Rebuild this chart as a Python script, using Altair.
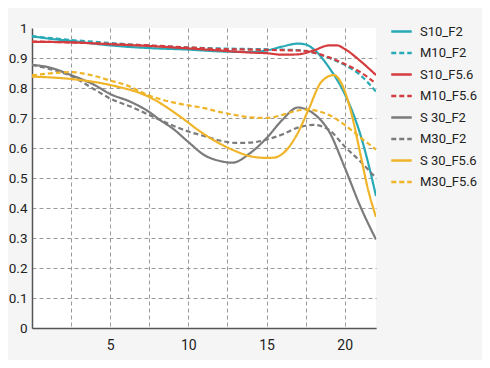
import altair as alt
import pandas as pd

series_names = ["S10_F2", "M10_F2", "S10_F5.6", "M10_F5.6",
                "S 30_F2", "M30_F2", "S 30_F5.6", "M30_F5.6"]
series_colors = ["#28a9b6", "#28a9b6", "#d43c3f", "#d43c3f",
                 "#7b7b7b", "#7b7b7b", "#f0b429", "#f0b429"]
series_dash = [[1, 0], [5, 3], [1, 0], [5, 3], [1, 0], [5, 3], [1, 0], [5, 3]]

s10_f2_x = [0, 1, 2.5, 5, 7.5, 10, 12, 14, 15, 16, 17, 17.5, 18, 19, 20, 20.5, 21, 21.5, 22]
s10_f2_y = [0.973, 0.965, 0.957, 0.942, 0.933, 0.928, 0.922, 0.92, 0.925, 0.938, 0.948, 0.945,
            0.93, 0.868, 0.78, 0.72, 0.645, 0.55, 0.44]

m10_f2_x = [0, 2.5, 5, 7.5, 10, 12, 14, 16, 17, 18, 19, 20, 21, 22]
m10_f2_y = [0.972, 0.96, 0.95, 0.941, 0.935, 0.932, 0.93, 0.928, 0.926, 0.918, 0.9, 0.877, 0.843, 0.788]

s10_f56_x = [0, 2.5, 5, 7.5, 10, 12, 14, 15, 16, 17, 18, 19, 19.5, 20, 21, 22]
s10_f56_y = [0.954, 0.952, 0.946, 0.94, 0.932, 0.925, 0.918, 0.916, 0.911, 0.912, 0.925, 0.942,
             0.942, 0.93, 0.89, 0.843]

m10_f56_x = [0, 2.5, 5, 7.5, 10, 12, 14, 16, 17, 18, 19, 20, 21, 22]
m10_f56_y = [0.955, 0.952, 0.947, 0.942, 0.935, 0.93, 0.928, 0.926, 0.925, 0.918, 0.902, 0.88, 0.853, 0.815]

s30_f2_x = [0, 1, 2.5, 4, 5, 6.3, 7.5, 8.2, 9, 10, 11, 12, 12.8, 14, 15, 16, 17, 18, 19, 20, 21, 22]
s30_f2_y = [0.877, 0.87, 0.843, 0.81, 0.78, 0.754, 0.72, 0.693, 0.665, 0.62, 0.577, 0.557, 0.551,
            0.585, 0.633, 0.693, 0.735, 0.715, 0.655, 0.535, 0.405, 0.295]

m30_f2_x = [0, 1, 2.5, 4, 5, 6.3, 7.5, 8.2, 9, 10, 11, 12, 13, 14, 15, 16, 17, 18, 19, 20, 21, 22]
m30_f2_y = [0.877, 0.865, 0.84, 0.795, 0.765, 0.738, 0.71, 0.693, 0.675, 0.655, 0.64, 0.625, 0.617,
            0.618, 0.628, 0.645, 0.668, 0.677, 0.66, 0.605, 0.555, 0.5]

s30_f56_x = [0, 2.5, 5, 7.5, 9.6, 10.7, 12, 13, 14, 15, 15.5, 16, 17, 17.7, 18.5, 19.3, 20, 20.5, 21,
             21.5, 22]
s30_f56_y = [0.838, 0.83, 0.81, 0.77, 0.70, 0.657, 0.615, 0.59, 0.572, 0.567, 0.568, 0.58, 0.65,
             0.73, 0.82, 0.843, 0.79, 0.70, 0.58, 0.46, 0.37]

m30_f56_x = [0, 1, 2.5, 4, 5, 6, 7.5, 9, 10, 11, 12, 13, 14, 15, 16, 17, 17.7, 18.5, 19, 20, 21, 22]
m30_f56_y = [0.842, 0.848, 0.853, 0.84, 0.825, 0.81, 0.775, 0.752, 0.742, 0.733, 0.72, 0.71, 0.702,
             0.70, 0.71, 0.725, 0.728, 0.72, 0.71, 0.677, 0.635, 0.595]

xs = [s10_f2_x, m10_f2_x, s10_f56_x, m10_f56_x, s30_f2_x, m30_f2_x, s30_f56_x, m30_f56_x]
ys = [s10_f2_y, m10_f2_y, s10_f56_y, m10_f56_y, s30_f2_y, m30_f2_y, s30_f56_y, m30_f56_y]

rows = []
for i, (name, xv, yv) in enumerate(zip(series_names, xs, ys)):
    for a, b in zip(xv, yv):
        rows.append({"series": name, "order": i, "x": a, "y": b})
df = pd.DataFrame(rows)

x_grid = [2.5, 5, 7.5, 10, 12.5, 15, 17.5, 20]
y_grid = [0, 0.1, 0.2, 0.3, 0.4, 0.5, 0.6, 0.7, 0.8, 0.9, 1.0]

chart = alt.Chart(df).mark_line(interpolate="monotone", strokeWidth=2.2, clip=True).encode(
    x=alt.X("x:Q", scale=alt.Scale(domain=[0, 22], nice=False, zero=False),
            axis=alt.Axis(values=x_grid, title=None,
                          labelExpr="datum.value % 5 == 0 ? format(datum.value, 'd') : ''",
                          labelPadding=10, labelFontSize=14)),
    y=alt.Y("y:Q", scale=alt.Scale(domain=[0, 1], nice=False),
            axis=alt.Axis(values=y_grid, title=None, format=".1~f", labelPadding=5,
                          labelFontSize=13.5,
                          gridOpacity={"condition": {"test": "datum.value >= 1", "value": 0},
                                       "value": 1})),
    color=alt.Color("series:N", scale=alt.Scale(domain=series_names, range=series_colors),
                    sort=series_names,
                    legend=alt.Legend(title=None, orient="none", legendX=358, legendY=-8,
                                      symbolType="stroke", symbolSize=420, symbolStrokeWidth=2.5,
                                      labelFontSize=13, labelFont="Roboto", labelColor="#222",
                                      labelOffset=7, rowPadding=2.5, padding=0, labelLimit=200)),
    strokeDash=alt.StrokeDash("series:N", scale=alt.Scale(domain=series_names, range=series_dash),
                              sort=series_names, legend=alt.Legend(title=None)),
    detail="series:N",
).properties(
    width=344, height=300,
    background="#f5f5f5",
    padding={"left": 24, "top": 20, "right": 106, "bottom": 32},
    autosize=alt.AutoSizeParams(type="none"),
).configure_view(
    fill="white", strokeWidth=0
).configure_axis(
    grid=True, gridColor="#9a9a9a", gridDash=[4, 3], gridWidth=1,
    domainColor="#555", domainWidth=1.5, ticks=False,
    labelFont="Roboto", labelColor="#222",
)

chart.save("out.html", embed_options={"renderer": "svg", "actions": False})
